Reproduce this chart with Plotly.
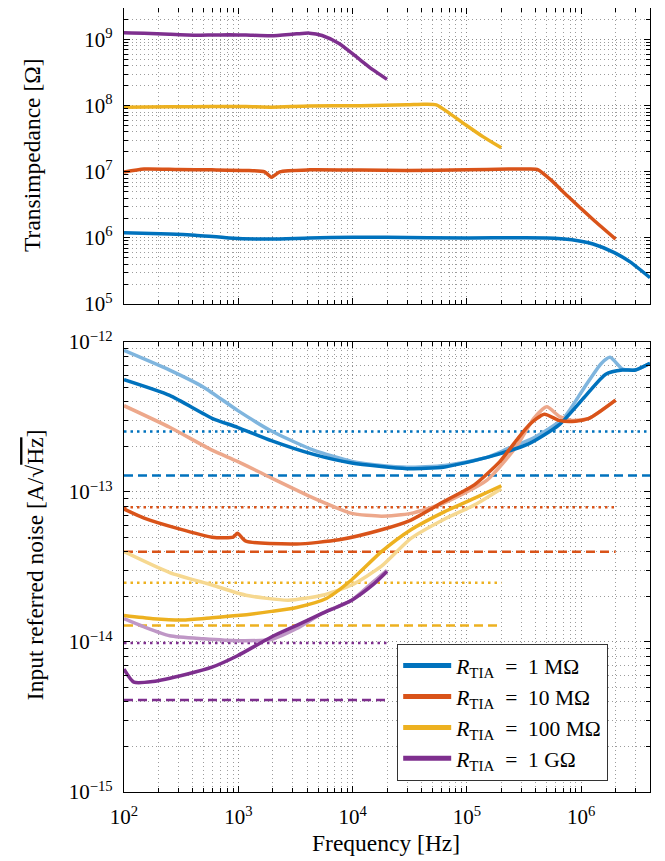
import plotly.graph_objects as go

# ---------------- data ----------------
# Transimpedance (top panel)
tia_f_1g = [100, 150, 250, 420, 590, 830, 1166, 1945, 3243, 4188, 5408, 7605, 11700, 15000, 20000]
tia_v_1g = [1.27e9, 1.25e9, 1.2e9, 1.16e9, 1.17e9, 1.18e9, 1.17e9, 1.14e9, 1.22e9, 1.25e9, 1.15e9, 8.7e8, 4.9e8, 3.5e8, 2.5e8]

tia_f_100m = [100, 250, 590, 1166, 1945, 4188, 11700, 30000, 42000, 54000, 70000, 98000, 138000, 200000]
tia_v_100m = [9.5e7, 9.6e7, 9.7e7, 9.7e7, 9.5e7, 9.9e7, 1.0e8, 1.03e8, 1.05e8, 1.03e8, 7.7e7, 5.1e7, 3.4e7, 2.3e7]

tia_f_10m = [100, 150, 300, 590, 1166, 1700, 1945, 2306, 4188, 11700, 30000, 1e5, 2.3e5, 3.5e5, 4.2e5, 5.4e5, 7.6e5, 1.27e6, 2e6]
tia_v_10m = [9.9e6, 1.1e7, 1.08e7, 1.07e7, 1.05e7, 1.0e7, 8.3e6, 1.0e7, 1.07e7, 1.06e7, 1.05e7, 1.07e7, 1.1e7, 1.1e7, 1.07e7, 7.6e6, 4.3e6, 1.9e6, 9.6e5]

tia_f_1m = [100, 250, 419, 829, 1945, 4188, 1e4, 2e4, 1e5, 5e5, 8.3e5, 1.27e6, 1.95e6, 2.7e6, 4e6]
tia_v_1m = [1.2e6, 1.15e6, 1.1e6, 1.0e6, 9.6e5, 1.0e6, 1.02e6, 1.02e6, 1.0e6, 1.0e6, 9.4e5, 8.1e5, 6.0e5, 4.3e5, 2.5e5]

# Input referred noise (bottom panel)
n_f_1m_a = [100, 251, 497, 984, 1945, 4560, 9830, 1.79e4, 2.98e4, 6.4e4, 1.5e5, 2.3e5, 3.85e5, 7.0e5, 1.07e6, 1.5e6, 1.79e6, 2.3e6, 2.98e6, 4e6]
n_v_1m_a = [8.8e-13, 6.5e-13, 5.0e-13, 3.5e-13, 2.55e-13, 1.9e-13, 1.6e-13, 1.5e-13, 1.46e-13, 1.5e-13, 1.7e-13, 1.95e-13, 2.3e-13, 3.1e-13, 5.0e-13, 7.2e-13, 7.9e-13, 6.6e-13, 6.5e-13, 7.2e-13]
n_f_1m_b = [100, 251, 589, 984, 1945, 4560, 9830, 2.98e4, 6.4e4, 1.5e5, 3.5e5, 6.4e5, 1.07e6, 1.64e6, 2.3e6, 2.98e6, 4e6]
n_v_1m_b = [5.6e-13, 4.4e-13, 3.1e-13, 2.7e-13, 2.2e-13, 1.78e-13, 1.56e-13, 1.43e-13, 1.47e-13, 1.7e-13, 2.1e-13, 2.8e-13, 4.3e-13, 6.1e-13, 6.5e-13, 6.5e-13, 7.2e-13]

n_f_10m_a = [100, 251, 589, 984, 1945, 4560, 9830, 1.79e4, 3.24e4, 6.4e4, 1.5e5, 2.7e5, 3.85e5, 5.0e5, 6.4e5, 8.3e5, 1.17e6, 2e6]
n_v_10m_a = [3.76e-13, 2.7e-13, 1.9e-13, 1.6e-13, 1.24e-13, 9.1e-14, 7.2e-14, 6.9e-14, 7.2e-14, 8.5e-14, 1.2e-13, 2.0e-13, 3.1e-13, 3.7e-13, 3.2e-13, 3.0e-13, 3.1e-13, 4.1e-13]
n_f_10m_b = [100, 150, 298, 589, 900, 984, 1166, 3243, 7605, 1.79e4, 3.24e4, 6.4e4, 1.17e5, 1.95e5, 2.7e5, 3.5e5, 4.76e5, 6.4e5, 8.3e5, 1.17e6, 2e6]
n_v_10m_b = [7.7e-14, 6.7e-14, 5.7e-14, 5.0e-14, 5.0e-14, 5.3e-14, 4.7e-14, 4.5e-14, 4.8e-14, 5.6e-14, 6.5e-14, 8.7e-14, 1.12e-13, 1.6e-13, 2.2e-13, 2.8e-13, 3.3e-13, 3.0e-13, 2.95e-13, 3.1e-13, 4.1e-13]

n_f_100m_a = [100, 251, 589, 1166, 2735, 5408, 9830, 1.79e4, 3.24e4, 6.4e4, 1.17e5, 2e5]
n_v_100m_a = [4.0e-14, 2.9e-14, 2.4e-14, 2.05e-14, 1.9e-14, 2.05e-14, 2.4e-14, 3.2e-14, 4.9e-14, 6.6e-14, 8.2e-14, 1.05e-13]
n_f_100m_b = [100, 179, 324, 589, 984, 1945, 3243, 5890, 9830, 1.79e4, 3.24e4, 6.4e4, 1.17e5, 2e5]
n_v_100m_b = [1.5e-14, 1.43e-14, 1.4e-14, 1.45e-14, 1.5e-14, 1.6e-14, 1.7e-14, 1.95e-14, 2.6e-14, 4.0e-14, 5.6e-14, 7.4e-14, 9.1e-14, 1.1e-13]

n_f_1g_a = [100, 150, 251, 497, 984, 1945, 3243, 5408, 9830, 1.5e4, 2e4]
n_v_1g_a = [1.43e-14, 1.26e-14, 1.1e-14, 1.05e-14, 1.02e-14, 1.04e-14, 1.23e-14, 1.55e-14, 1.9e-14, 2.5e-14, 3.0e-14]
n_f_1g_b = [100, 122, 179, 353, 589, 984, 1945, 3243, 5408, 9830, 1.5e4, 2e4]
n_v_1g_b = [6.6e-15, 5.4e-15, 5.45e-15, 6.1e-15, 6.8e-15, 8.1e-15, 1.08e-14, 1.29e-14, 1.55e-14, 1.9e-14, 2.4e-14, 2.95e-14]

# reference levels
ref_f_start = 100
ref_f_end = [4e6, 2e6, 2e5, 2e4]
ref_dotted = [2.53e-13, 7.9e-14, 2.48e-14, 9.85e-15]
ref_dashed = [1.29e-13, 4.0e-14, 1.29e-14, 4.1e-15]

names = ["<i>R</i><sub>TIA</sub>&nbsp;&nbsp;=&nbsp;&nbsp;1&nbsp;MΩ", "<i>R</i><sub>TIA</sub>&nbsp;&nbsp;=&nbsp;&nbsp;10&nbsp;MΩ",
         "<i>R</i><sub>TIA</sub>&nbsp;&nbsp;=&nbsp;&nbsp;100&nbsp;MΩ", "<i>R</i><sub>TIA</sub>&nbsp;&nbsp;=&nbsp;&nbsp;1&nbsp;GΩ"]
colors = ["#0072BD", "#D95319", "#EDB120", "#7E2F8E"]
light = ["#7FB5DE", "#EDA88B", "#F6D890", "#BF97C6"]

x_ticks = [1e2, 1e3, 1e4, 1e5, 1e6]
x_tick_text = ["10<sup>2</sup>", "10<sup>3</sup>", "10<sup>4</sup>", "10<sup>5</sup>", "10<sup>6</sup>"]
y1_ticks = [1e5, 1e6, 1e7, 1e8, 1e9]
y1_tick_text = ["10<sup>5</sup>", "10<sup>6</sup>", "10<sup>7</sup>", "10<sup>8</sup>", "10<sup>9</sup>"]
y2_ticks = [1e-15, 1e-14, 1e-13, 1e-12]
y2_tick_text = ["10<sup>−15</sup>", "10<sup>−14</sup>", "10<sup>−13</sup>", "10<sup>−12</sup>"]

# ---------------- figure ----------------
fig = go.Figure()
tia = [(tia_f_1m, tia_v_1m), (tia_f_10m, tia_v_10m), (tia_f_100m, tia_v_100m), (tia_f_1g, tia_v_1g)]
noise_a = [(n_f_1m_a, n_v_1m_a), (n_f_10m_a, n_v_10m_a), (n_f_100m_a, n_v_100m_a), (n_f_1g_a, n_v_1g_a)]
noise_b = [(n_f_1m_b, n_v_1m_b), (n_f_10m_b, n_v_10m_b), (n_f_100m_b, n_v_100m_b), (n_f_1g_b, n_v_1g_b)]

LW = 3.5
SM = 0.6
for i in range(4):
    fig.add_trace(go.Scatter(x=tia[i][0], y=tia[i][1], mode="lines", xaxis="x", yaxis="y",
                             line=dict(color=colors[i], width=LW, shape="spline", smoothing=SM),
                             showlegend=False))
for i in range(4):
    fig.add_trace(go.Scatter(x=[ref_f_start, ref_f_end[i]], y=[ref_dotted[i]] * 2, mode="lines",
                             xaxis="x2", yaxis="y2",
                             line=dict(color=colors[i], width=2.5, dash="2.5px,4px"), showlegend=False))
    fig.add_trace(go.Scatter(x=[ref_f_start, ref_f_end[i]], y=[ref_dashed[i]] * 2, mode="lines",
                             xaxis="x2", yaxis="y2",
                             line=dict(color=colors[i], width=2.5, dash="9px,5px"), showlegend=False))
for i in range(4):
    fig.add_trace(go.Scatter(x=noise_a[i][0], y=noise_a[i][1], mode="lines", xaxis="x2", yaxis="y2",
                             line=dict(color=light[i], width=LW, shape="spline", smoothing=SM),
                             showlegend=False))
for i in range(4):
    fig.add_trace(go.Scatter(x=noise_b[i][0], y=noise_b[i][1], mode="lines", xaxis="x2", yaxis="y2",
                             line=dict(color=colors[i], width=LW, shape="spline", smoothing=SM),
                             showlegend=False))
# legend entries (thicker legend lines, as in the reference)
for i in range(4):
    fig.add_trace(go.Scatter(x=[None], y=[None], mode="lines", xaxis="x2", yaxis="y2",
                             line=dict(color=colors[i], width=5), name=names[i], showlegend=True))

FONT = "Liberation Serif"
grid = dict(showgrid=True, gridcolor="#8c8c8c", gridwidth=1, griddash="1px,3px")
minor = dict(dtick="D1", ticks="inside", ticklen=3.5, tickcolor="black", showgrid=True,
             gridcolor="#9c9c9c", gridwidth=1, griddash="1px,3px")
common = dict(type="log", showline=True, linecolor="black", linewidth=1.3, mirror="ticks",
              ticks="inside", ticklen=6, tickcolor="black", tickwidth=1, zeroline=False,
              automargin=False, ticklabelstandoff=6,
              tickfont=dict(family=FONT, size=21, color="black"), minor=minor, **grid)

fig.update_layout(
    width=665, height=861,
    margin=dict(l=116, r=23, t=0, b=77),
    plot_bgcolor="white", paper_bgcolor="white",
    font=dict(family=FONT, color="black"),
    xaxis=dict(domain=[0, 1], anchor="y", range=[2, 6.60206], tickvals=x_ticks, ticktext=x_tick_text,
               showticklabels=False, **common),
    yaxis=dict(domain=[0.6224, 1], anchor="x", range=[5, 9.477], tickvals=y1_ticks, ticktext=y1_tick_text,
               **common),
    xaxis2=dict(domain=[0, 1], anchor="y2", range=[2, 6.60206], tickvals=x_ticks, ticktext=x_tick_text,
                **common),
    yaxis2=dict(domain=[0, 0.574], anchor="x2", range=[-15, -12], tickvals=y2_ticks, ticktext=y2_tick_text,
                **common),
    legend=dict(x=0.519, y=0.189, xanchor="left", yanchor="top", bgcolor="white",
                bordercolor="#333", borderwidth=1.2, font=dict(family=FONT, size=21.5, color="black"),
                tracegroupgap=0, itemwidth=48),
    annotations=[
        dict(text="Transimpedance [Ω]", xref="paper", yref="paper", x=-0.175, y=0.8125,
             xanchor="center", yanchor="middle", textangle=-90, showarrow=False,
             font=dict(family=FONT, size=23.5, color="black")),
        dict(text="Input referred noise [A/√<span style='text-decoration:overline'>Hz</span>]",
             xref="paper", yref="paper", x=-0.169, y=0.2895,
             xanchor="center", yanchor="middle", textangle=-90, showarrow=False,
             font=dict(family=FONT, size=23.5, color="black")),
        dict(text="Frequency [Hz]", xref="paper", yref="paper", x=0.498, y=-0.065,
             xanchor="center", yanchor="middle", showarrow=False,
             font=dict(family=FONT, size=23.5, color="black")),
    ],
)

fig.write_html("out.html")
